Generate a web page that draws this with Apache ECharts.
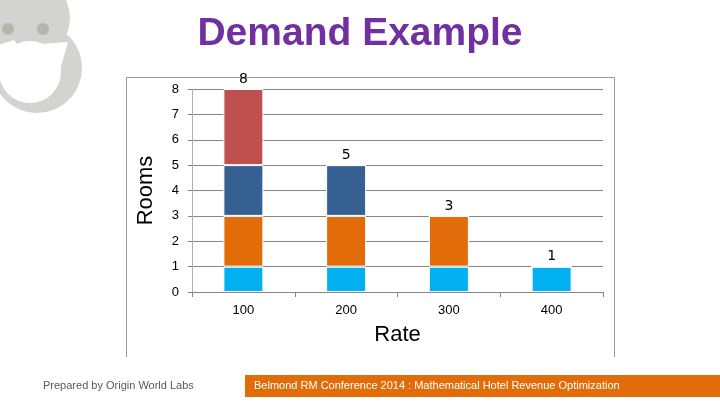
<!DOCTYPE html>
<html><head><meta charset="utf-8">
<script src="https://cdn.jsdelivr.net/npm/echarts@6/dist/echarts.min.js"></script>
<style>html,body{margin:0;padding:0;background:#fff}#c{width:720px;height:405px}</style>
</head><body><div id="c"></div>
<script>
const categories = ['100', '200', '300', '400'];
const tier1 = [1, 1, 1, 1];      // light blue
const tier2 = [2, 2, 2, 0];      // orange
const tier3 = [2, 2, 0, 0];      // dark blue
const tier4 = [3, 0, 0, 0];      // red
const totals = [8, 5, 3, 1];
const yTicks = [0, 1, 2, 3, 4, 5, 6, 7, 8];

const chart = echarts.init(document.getElementById('c'));
const segStyle = c => ({ color: c, borderColor: '#ffffff', borderWidth: 1 });
const mk = (name, data, color) => ({
  name, type: 'bar', stack: 's', data, barWidth: 40,
  itemStyle: segStyle(color), emphasis: { disabled: true }
});
chart.setOption({
  animation: false,
  backgroundColor: '#ffffff',
  title: {
    text: 'Demand Example', left: 'center', top: 10,
    textStyle: { color: '#7030A0', fontSize: 39, fontWeight: 'bold', fontFamily: 'Liberation Sans' }
  },
  grid: { left: 192, right: 117, top: 89, bottom: 113 },
  xAxis: {
    type: 'category', data: categories,
    name: 'Rate', nameLocation: 'middle', nameGap: 32,
    nameTextStyle: { fontSize: 22, color: '#000', fontFamily: 'Liberation Sans' },
    axisLine: { lineStyle: { color: '#868686' } },
    axisTick: { show: true, length: 5, lineStyle: { color: '#868686' } },
    axisLabel: { fontSize: 13, color: '#000', margin: 12, fontFamily: 'Liberation Sans' }
  },
  yAxis: {
    type: 'value', min: 0, max: yTicks[yTicks.length - 1], interval: 1,
    name: 'Rooms', nameLocation: 'middle', nameGap: 35,
    nameTextStyle: { fontSize: 22, color: '#000', fontFamily: 'Liberation Sans' },
    axisLine: { show: true, lineStyle: { color: '#b0b0b0' } },
    axisTick: { show: true, length: 4, lineStyle: { color: '#868686' } },
    axisLabel: { fontSize: 13, color: '#000', margin: 13, fontFamily: 'Liberation Sans' },
    splitLine: { lineStyle: { color: '#868686', width: 1 } }
  },
  series: [
    mk('t1', tier1, '#00B0F0'),
    mk('t2', tier2, '#E36C0A'),
    mk('t3', tier3, '#366092'),
    mk('t4', tier4, '#C0504D'),
    {
      name: 'total', type: 'bar', stack: 's', barWidth: 40,
      data: totals.map(() => 0),
      itemStyle: { color: 'transparent' },
      label: {
        show: true, position: 'top', distance: 3,
        formatter: p => String(totals[p.dataIndex]),
        fontSize: 14, color: '#000', fontFamily: 'DejaVu Sans'
      },
      emphasis: { disabled: true }
    }
  ],
  graphic: [
    // decorative owl logo
    { type: 'circle', shape: { cx: 37, cy: 68, r: 45 }, style: { fill: '#d3d3cf' }, silent: true },
    { type: 'circle', shape: { cx: 28, cy: 18, r: 42 }, style: { fill: '#d3d3cf' }, silent: true },
    { type: 'circle', shape: { cx: 30, cy: 72, r: 31 }, style: { fill: '#ffffff' }, silent: true },
    { type: 'polygon', shape: { points: [[-5, 46], [14, 40], [26, 56], [40, 44], [68, 42], [60, 70], [0, 70]] }, style: { fill: '#ffffff' }, silent: true },
    { type: 'circle', shape: { cx: 8, cy: 29, r: 6 }, style: { fill: '#b5b5ae' }, silent: true },
    { type: 'circle', shape: { cx: 43, cy: 29, r: 6 }, style: { fill: '#b5b5ae' }, silent: true },
    // chart frame
    { type: 'polyline', shape: { points: [[126.5, 357], [126.5, 77.5], [614.5, 77.5], [614.5, 357]] }, style: { stroke: '#9a9a9a', lineWidth: 1, fill: null }, silent: true },
    // footer
    { type: 'text', left: 43, top: 380, style: { text: 'Prepared by Origin World Labs', fill: '#595959', fontSize: 11, fontFamily: 'Liberation Sans' }, silent: true },
    { type: 'rect', shape: { x: 245, y: 375, width: 475, height: 22 }, style: { fill: '#E36C0A' }, silent: true },
    { type: 'text', left: 254, top: 380, style: { text: 'Belmond RM Conference 2014 : Mathematical Hotel Revenue Optimization', fill: '#ffffff', fontSize: 11, fontFamily: 'Liberation Sans' }, silent: true }
  ]
});
</script></body></html>
